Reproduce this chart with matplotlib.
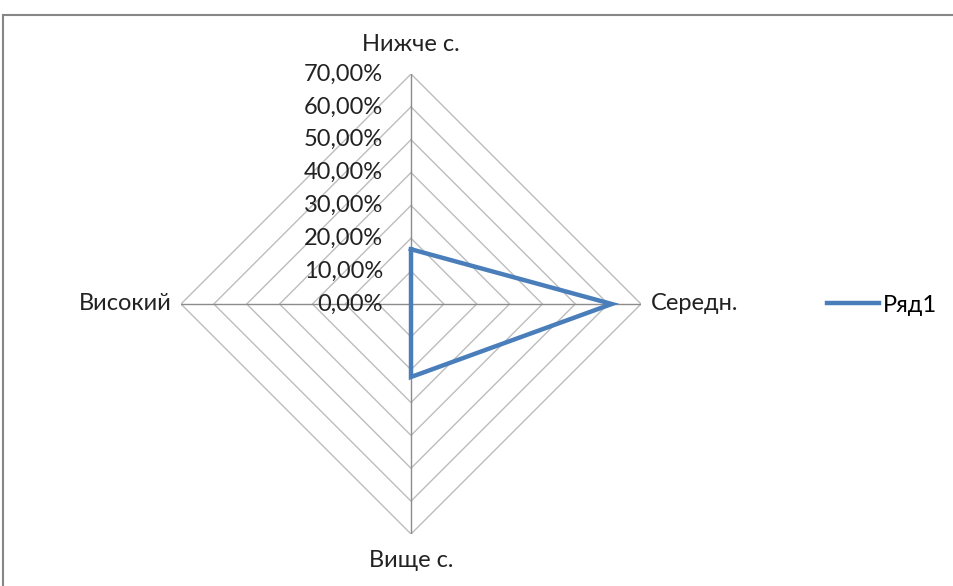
import numpy as np
import matplotlib.pyplot as plt
import matplotlib.transforms as mtransforms
from matplotlib.patches import Rectangle

# data
categories = ["Нижче с.", "Середн.", "Вище с.", "Високий"]
values = [0.1667, 0.6111, 0.2222, 0.0]
ticks = [0.0, 0.1, 0.2, 0.3, 0.4, 0.5, 0.6, 0.7]
tick_labels = ["0,00%", "10,00%", "20,00%", "30,00%", "40,00%", "50,00%", "60,00%", "70,00%"]
series_name = "Ряд1"

plt.rcParams['font.family'] = ['Lato', 'DejaVu Sans']
FS = 17

fig = plt.figure(figsize=(9.54, 5.86), dpi=100)
W, H = 954, 586
cx, cy, R = 411, 304, 230
ax = fig.add_axes([(cx - R) / W, (H - cy - R) / H, 2 * R / W, 2 * R / H], projection='polar')
ax.set_theta_zero_location('N')
ax.set_theta_direction(-1)
ax.set_ylim(0, 0.7)
ax.set_xticks([])
ax.set_yticks([])
ax.grid(False)
ax.spines['polar'].set_visible(False)
ax.patch.set_visible(False)

angles = np.arange(len(categories)) * 2 * np.pi / len(categories)
closed = np.append(angles, angles[0])

# diamond grid rings
for t in ticks[1:]:
    ax.plot(closed, [t] * len(closed), color='#bdbdbd', lw=1.0, zorder=1)
# spokes
for a in angles:
    ax.plot([a, a], [0, 0.7], color='#8c8c8c', lw=1.0, zorder=2)

# tick labels left of the top spoke
off = mtransforms.offset_copy(ax.transData, fig=fig, x=-20, y=0, units='points')
for t, lab in zip(ticks, tick_labels):
    ax.text(0, t, lab, transform=off, ha='right', va='center', fontsize=FS, color='#222222', zorder=3)

# category labels
def lab_at(a, text, dx, dy, ha):
    tr = mtransforms.offset_copy(ax.transData, fig=fig, x=dx, y=dy, units='points')
    ax.text(a, 0.7, text, transform=tr, ha=ha, va='center', fontsize=FS, color='#222222')

lab_at(angles[0], categories[0], 0, 21, 'center')
lab_at(angles[1], categories[1], 7, 0, 'left')
lab_at(angles[2], categories[2], 0, -19, 'center')
lab_at(angles[3], categories[3], -7, 0, 'right')

ax.plot(closed, np.append(values, values[0]), color='#4a7ebb', lw=3.2, zorder=4,
        solid_joinstyle='miter', label=series_name)

fig.legend(loc='center left', bbox_to_anchor=(806 / W, (H - 305) / H), frameon=False,
           fontsize=FS, handlelength=2.2, handletextpad=0.15)

# outer chart frame
fig.patches.append(Rectangle((3 / W, -0.1), 1.2, 1.1 - 15 / H, transform=fig.transFigure,
                             fill=False, edgecolor='#868686', lw=1.5))

fig.savefig('out.png', dpi=100)
